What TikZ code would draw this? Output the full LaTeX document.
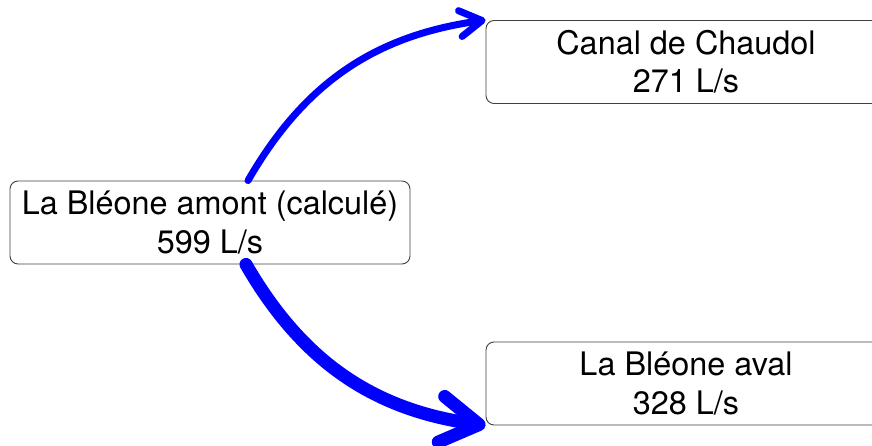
\documentclass[tikz,border=0pt]{standalone}
\usepackage{fontspec}
\setmainfont{TeX Gyre Heros}
\usetikzlibrary{arrows.meta}
\tikzset{
  flowbox/.style={draw=black!75, line width=0.9pt, rounded corners=8pt,
    minimum width=400pt, minimum height=83pt, align=center, inner sep=4pt,
    font=\fontsize{32.4}{38.4}\selectfont},
  flowarrow/.style={draw=blue, line cap=round}
}
\begin{document}
\begin{tikzpicture}[x=1pt,y=1pt]
\useasboundingbox (0,0) rectangle (872,445);
\node[flowbox] (src) at (210,222.5) {La Bléone amont (calculé)\\599 L/s};
\node[flowbox] (canal) at (686,383) {Canal de Chaudol\\271 L/s};
\node[flowbox] (aval) at (686,61.5) {La Bléone aval\\328 L/s};
\coordinate (s1) at ([xshift=38pt]src.north);
\coordinate (s2) at ([xshift=36pt]src.south);
\draw[flowarrow, line width=7pt, -{Straight Barb[round, length=22pt, width=26pt, line width=7pt]}]
  (s1) to[out=60, in=188] (canal.north west);
\draw[flowarrow, line width=13pt, -{Straight Barb[round, length=38pt, width=46pt, line width=13pt]}]
  (s2) to[out=-60, in=172] (aval.south west);
\end{tikzpicture}
\end{document}
